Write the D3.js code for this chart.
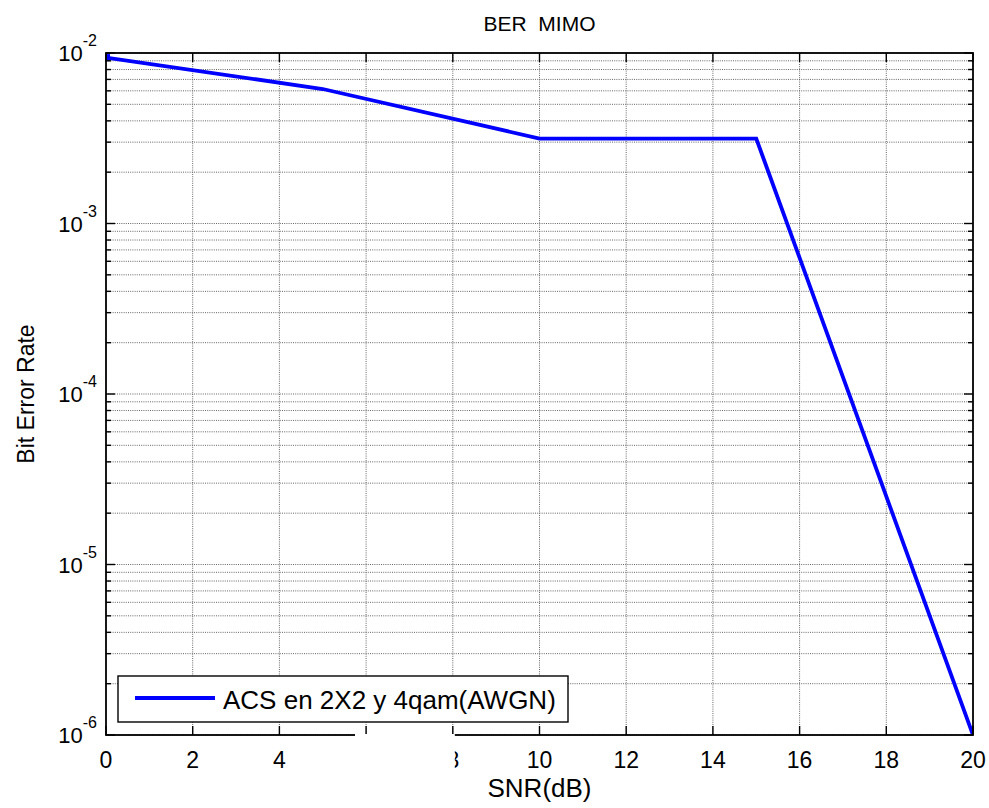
<!DOCTYPE html>
<html>
<head>
<meta charset="utf-8">
<script src="https://cdn.jsdelivr.net/npm/d3@7"></script>
<style>
  html, body { margin: 0; padding: 0; background: #fff; }
  svg text { font-family: "Liberation Sans", Arial, sans-serif; fill: #000; }
</style>
</head>
<body>
<script>
// BER curve for ACS on a 2x2 MIMO link with 4-QAM over AWGN
const snrDb = [0, 5, 10, 15, 20];
const berValues = [9.4e-3, 6.15e-3, 3.15e-3, 3.15e-3, 1e-6];
const xTickValues = [0, 2, 4, 6, 8, 10, 12, 14, 16, 18, 20];
const yDecadeExponents = [-6, -5, -4, -3, -2];
const seriesName = "ACS en 2X2 y 4qam(AWGN)";
const titleText = "BER  MIMO";
const xLabelText = "SNR(dB)";
const yLabelText = "Bit Error Rate";

const W = 989, H = 808;
const plot = { left: 106, right: 973, top: 53, bottom: 735 };

const svg = d3.select("body").append("svg")
  .attr("width", W).attr("height", H)
  .attr("viewBox", `0 0 ${W} ${H}`);

const x = d3.scaleLinear().domain([0, 20]).range([plot.left, plot.right]);
const y = d3.scaleLog().domain([1e-6, 1e-2]).range([plot.bottom, plot.top]);

// minor positions: 2..9 times each decade
const minorVals = [];
yDecadeExponents.slice(0, -1).forEach(e => {
  for (let m = 2; m <= 9; m++) minorVals.push(m * Math.pow(10, e));
});
const majorVals = yDecadeExponents.map(e => Math.pow(10, e));

// white plot background
svg.append("rect")
  .attr("x", plot.left).attr("y", plot.top)
  .attr("width", plot.right - plot.left).attr("height", plot.bottom - plot.top)
  .attr("fill", "#fff");

// dotted grid
const grid = svg.append("g")
  .attr("stroke", "#555").attr("stroke-width", 0.9)
  .attr("stroke-dasharray", "1,1.2").attr("fill", "none");

grid.selectAll(".gx").data(xTickValues.slice(1, -1)).join("line")
  .attr("x1", d => x(d)).attr("x2", d => x(d))
  .attr("y1", plot.top).attr("y2", plot.bottom);

grid.selectAll(".gy").data(majorVals.concat(minorVals)).join("line")
  .attr("x1", plot.left).attr("x2", plot.right)
  .attr("y1", d => y(d)).attr("y2", d => y(d));

// clip for the data line
svg.append("clipPath").attr("id", "plotClip")
  .append("rect")
  .attr("x", plot.left).attr("y", plot.top)
  .attr("width", plot.right - plot.left).attr("height", plot.bottom - plot.top);

const line = d3.line().x((d, i) => x(snrDb[i])).y(d => y(d));

svg.append("path")
  .datum(berValues)
  .attr("clip-path", "url(#plotClip)")
  .attr("d", line)
  .attr("fill", "none")
  .attr("stroke", "#0000ff")
  .attr("stroke-width", 3.8)
  .attr("stroke-linejoin", "miter");

// start marker
svg.append("rect")
  .attr("clip-path", "url(#plotClip)")
  .attr("x", x(snrDb[0]) - 3).attr("y", y(berValues[0]) - 3.5)
  .attr("width", 7).attr("height", 7)
  .attr("fill", "#0000ff");

// axes box and ticks
const axes = svg.append("g").attr("stroke", "#000").attr("fill", "none");

axes.append("rect")
  .attr("x", plot.left).attr("y", plot.top)
  .attr("width", plot.right - plot.left).attr("height", plot.bottom - plot.top)
  .attr("stroke-width", 1.8);

const majorLen = 9, minorLen = 5;
xTickValues.forEach(v => {
  axes.append("line").attr("x1", x(v)).attr("x2", x(v))
    .attr("y1", plot.bottom).attr("y2", plot.bottom - majorLen).attr("stroke-width", 1.4);
  axes.append("line").attr("x1", x(v)).attr("x2", x(v))
    .attr("y1", plot.top).attr("y2", plot.top + majorLen).attr("stroke-width", 1.4);
});
majorVals.forEach(v => {
  axes.append("line").attr("x1", plot.left).attr("x2", plot.left + majorLen)
    .attr("y1", y(v)).attr("y2", y(v)).attr("stroke-width", 1.4);
  axes.append("line").attr("x1", plot.right).attr("x2", plot.right - majorLen)
    .attr("y1", y(v)).attr("y2", y(v)).attr("stroke-width", 1.4);
});
minorVals.forEach(v => {
  axes.append("line").attr("x1", plot.left).attr("x2", plot.left + minorLen)
    .attr("y1", y(v)).attr("y2", y(v)).attr("stroke-width", 1.4);
  axes.append("line").attr("x1", plot.right).attr("x2", plot.right - minorLen)
    .attr("y1", y(v)).attr("y2", y(v)).attr("stroke-width", 1.4);
});

// x tick labels
svg.selectAll(".xt").data(xTickValues).join("text")
  .attr("x", d => x(d)).attr("y", plot.bottom + 33)
  .attr("text-anchor", "middle").attr("font-size", 23)
  .text(d => d);

// y tick labels as 10^n
yDecadeExponents.forEach(e => {
  const t = svg.append("text")
    .attr("x", 97).attr("y", y(Math.pow(10, e)) + 8)
    .attr("text-anchor", "end").attr("font-size", 22);
  t.append("tspan").text("10");
  t.append("tspan").attr("font-size", 16).attr("dy", -15).text(String(e));
});

// white patch over part of the x axis
svg.append("rect")
  .attr("x", 355).attr("y", plot.bottom - 1)
  .attr("width", x(8) + 2 - 355).attr("height", 42)
  .attr("fill", "#fff");

// title and axis labels
svg.append("text")
  .attr("x", (plot.left + plot.right) / 2).attr("y", 31)
  .attr("text-anchor", "middle").attr("font-size", 21)
  .attr("xml:space", "preserve").style("white-space", "pre")
  .text(titleText);

svg.append("text")
  .attr("x", (plot.left + plot.right) / 2).attr("y", plot.bottom + 62)
  .attr("text-anchor", "middle").attr("font-size", 26)
  .text(xLabelText);

svg.append("text")
  .attr("transform", `translate(34, ${(plot.top + plot.bottom) / 2}) rotate(-90)`)
  .attr("text-anchor", "middle").attr("font-size", 23)
  .text(yLabelText);

// legend
const lg = svg.append("g");
lg.append("rect")
  .attr("x", 118).attr("y", 676).attr("width", 450).attr("height", 46)
  .attr("fill", "#fff").attr("stroke", "#000").attr("stroke-width", 1.4);
lg.append("line")
  .attr("x1", 135).attr("x2", 215).attr("y1", 698).attr("y2", 698)
  .attr("stroke", "#0000ff").attr("stroke-width", 3.8);
lg.append("text")
  .attr("x", 223).attr("y", 709).attr("font-size", 26)
  .text(seriesName);
</script>
</body>
</html>
